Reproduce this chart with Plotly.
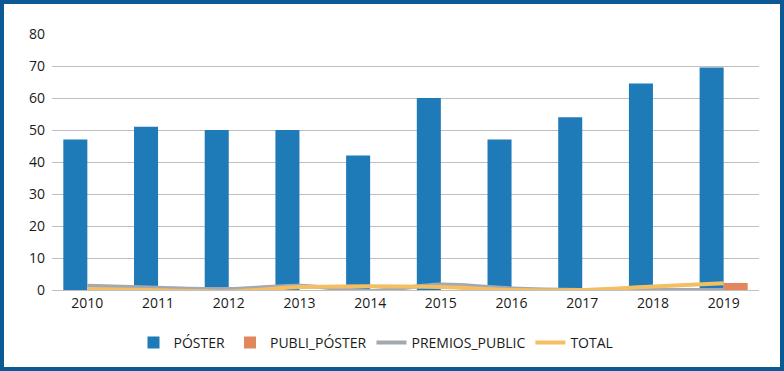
import plotly.graph_objects as go

years = ["2010", "2011", "2012", "2013", "2014", "2015", "2016", "2017", "2018", "2019"]
poster = [47, 51, 50, 50, 42, 60, 47, 54, 64.5, 69.5]
publi_poster = [0, 0, 0, 0, 0, 0, 0, 0, 0, 2.2]
premios_public = [1.3, 0.7, 0.3, 1.3, -0.3, 1.7, 0.5, 0, 0, 0]
total = [0.3, -0.1, -0.5, 0.9, 1.2, 0.9, 0, 0, 1.1, 2.1]

W, H = 784, 371
ml, mr, mt, mb = 52, 25, 34, 81
pw, ph = W - ml - mr, H - mt - mb

def px(x):
    return (x - ml) / pw

def py(y):
    return (H - mb - y) / ph

fig = go.Figure()
fig.add_trace(go.Bar(x=years, y=poster, name="PÓSTER", marker_color="#1F7BB8", marker_line_width=0))
fig.add_trace(go.Bar(x=years, y=publi_poster, name="PUBLI_PÓSTER", marker_color="#E0875E", marker_line_width=0))
fig.add_trace(go.Scatter(x=years, y=premios_public, name="PREMIOS_PUBLIC", mode="lines",
                         line=dict(color="#A3A9B0", width=4, shape="spline", smoothing=0.8)))
fig.add_trace(go.Scatter(x=years, y=total, name="TOTAL", mode="lines",
                         line=dict(color="#F4BF62", width=4, shape="spline", smoothing=0.8)))

fig.update_layout(
    width=W, height=H,
    margin=dict(l=ml, r=mr, t=mt, b=mb, autoexpand=False),
    paper_bgcolor="white", plot_bgcolor="white",
    barmode="group", bargap=0.32, bargroupgap=0,
    font=dict(family="Open Sans, sans-serif", size=14, color="#1A1A1A"),
    showlegend=True,
    legend=dict(orientation="h", x=px(376), xanchor="center", y=py(343), yanchor="middle",
                font=dict(size=14, color="#1A1A1A"), itemwidth=30, traceorder="normal",
                bgcolor="rgba(0,0,0,0)"),
    xaxis=dict(type="category", showgrid=False, showline=True, linecolor="#BFBFBF", linewidth=1,
               ticks="", tickfont=dict(size=14)),
    yaxis=dict(range=[0, 80], dtick=10, showgrid=True, gridcolor="#BFBFBF", gridwidth=1,
               zeroline=False, showline=False, ticks="", tickfont=dict(size=14), ticklabelstandoff=6),
    shapes=[dict(type="rect", xref="paper", yref="paper",
                 x0=px(2), x1=px(782), y0=py(369), y1=py(2),
                 line=dict(color="#0B5A96", width=4), layer="above")],
)

fig.write_html("out.html", config={"displayModeBar": False},
               post_script="document.body.style.margin='0';document.body.style.padding='0';document.body.style.overflow='hidden';")
